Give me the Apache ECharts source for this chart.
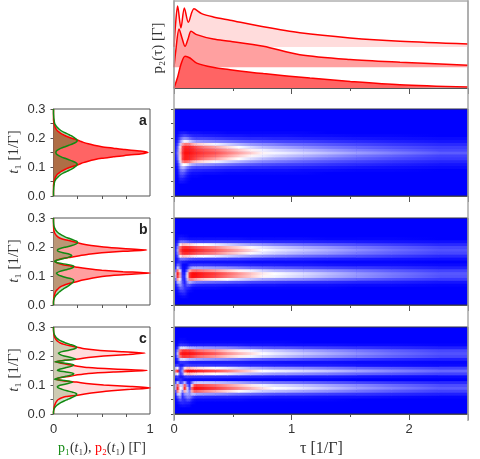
<!DOCTYPE html>
<html>
<head>
<meta charset="utf-8">
<style>
html,body{margin:0;background:#fff}
#heatClip,#chart{position:absolute;left:0;top:0;width:480px;height:459px}
#heatClip{clip-path:path('M174 109H468V196H174Z M174 218H468V305H174Z M174 327H468V414H174Z')}
#heat{width:480px;height:459px;filter:blur(0.7px)}
</style>
<script src="https://cdn.jsdelivr.net/npm/echarts@6/dist/echarts.min.js"></script>
</head>
<body>
<div id="heatClip"><div id="heat"></div></div>
<div id="chart"></div>
<script>
// top panel: [tau, p2] for each pulse train, each one sits on its own baseline
const curveA = [[0,0],[0.03,0.35],[0.06,0.8],[0.094,1.06],[0.136,1],[0.193,0.83],[0.33,0.69],[0.476,0.61],[0.76,0.48],[1.156,0.33],[1.5,0.22],[1.92,0.11],[2.5,0.03]];
const curveB = [[0,0],[0.015,0.55],[0.043,1.28],[0.07,0.95],[0.094,0.7],[0.12,0.95],[0.145,1.2],[0.193,1.09],[0.334,0.94],[0.476,0.87],[0.76,0.7],[1.07,0.42],[1.497,0.26],[1.922,0.17],[2.5,0.07]];
const curveC = [[0,0],[0.012,0.7],[0.031,1.36],[0.059,0.63],[0.088,1.3],[0.122,0.82],[0.17,1.27],[0.235,1.11],[0.334,1],[0.476,0.89],[0.76,0.67],[1.07,0.47],[1.497,0.3],[1.922,0.19],[2.5,0.1]];
const baseB = 0.69;
const baseC = 1.37;

// left panels, t1 from 0 to 0.3 in steps of 0.005
const t1Axis = Array.from({length: 61}, (_, i) => (i * 0.005).toFixed(3));
const redA = [0,0,0,0,0,0,0,0,0.001,0.003,
  0.005,0.01,0.015,0.02,0.03,0.04,0.06,0.08,0.11,0.14,
  0.18,0.23,0.27,0.31,0.36,0.42,0.5,0.62,0.74,0.9,
  0.98,0.9,0.74,0.62,0.5,0.42,0.36,0.31,0.27,0.23,
  0.18,0.14,0.11,0.08,0.06,0.04,0.03,0.02,0.015,0.01,
  0.005,0.003,0.001,0,0,0,0,0,0,0,0];
const greenA = [0,0,0,0,0.001,0.002,0.003,0.005,0.007,0.009,
  0.012,0.02,0.03,0.045,0.06,0.08,0.105,0.14,0.17,0.2,
  0.22,0.24,0.245,0.23,0.2,0.16,0.12,0.08,0.05,0.03,
  0.025,0.03,0.05,0.08,0.12,0.16,0.2,0.23,0.245,0.24,
  0.22,0.2,0.17,0.14,0.105,0.08,0.06,0.045,0.03,0.02,
  0.012,0.009,0.007,0.005,0.003,0.002,0.001,0,0,0,0];
const redB = [0,0,0,0,0.002,0.004,0.006,0.01,0.015,0.02,
  0.03,0.045,0.06,0.085,0.12,0.17,0.24,0.29,0.36,0.44,
  0.55,0.75,1,0.72,0.5,0.36,0.25,0.17,0.09,0.04,
  0.015,0.04,0.09,0.18,0.27,0.36,0.5,0.72,0.965,0.72,
  0.52,0.39,0.3,0.25,0.19,0.12,0.07,0.045,0.03,0.018,
  0.01,0.006,0.003,0.002,0.001,0,0,0,0,0,0];
const greenB = [0,0,0,0.002,0.005,0.01,0.018,0.03,0.045,0.06,
  0.08,0.1,0.125,0.15,0.17,0.19,0.205,0.21,0.19,0.13,
  0.08,0.045,0.03,0.06,0.11,0.17,0.205,0.21,0.14,0.05,
  0.01,0.04,0.1,0.16,0.19,0.165,0.1,0.05,0.04,0.07,
  0.13,0.19,0.23,0.25,0.24,0.2,0.16,0.12,0.09,0.065,
  0.045,0.03,0.02,0.012,0.007,0.004,0.002,0.001,0,0,0];
const redC = [0,0,0.001,0.003,0.005,0.008,0.012,0.018,0.025,0.035,
  0.05,0.08,0.13,0.25,0.34,0.46,0.6,0.8,1,0.8,
  0.52,0.34,0.24,0.1,0.02,0.07,0.17,0.25,0.36,0.62,
  0.97,0.62,0.36,0.25,0.16,0.08,0.02,0.12,0.26,0.36,
  0.52,0.78,0.95,0.72,0.46,0.32,0.25,0.17,0.11,0.07,
  0.045,0.03,0.02,0.012,0.007,0.004,0.002,0.001,0,0,0];
const greenC = [0,0,0.001,0.004,0.01,0.02,0.035,0.055,0.08,0.11,
  0.145,0.18,0.21,0.235,0.24,0.2,0.14,0.09,0.05,0.04,
  0.08,0.15,0.2,0.13,0.01,0.06,0.13,0.19,0.21,0.13,
  0.04,0.07,0.13,0.19,0.21,0.12,0.01,0.12,0.23,0.18,
  0.11,0.07,0.05,0.09,0.16,0.22,0.24,0.22,0.17,0.125,
  0.09,0.06,0.04,0.025,0.015,0.008,0.004,0.002,0.001,0,0];

// heat maps: column edges in tau, rows at t1 = 0, 0.01 ... 0.30
// values: 0 blue, 50 white, 100 red
const tauEdges = [0,0.02,0.04,0.06,0.08,0.1,0.12,0.14,0.16,0.18,0.2,0.3,0.4,0.5,0.6,0.7,0.8,0.9,1,1.2,1.4,1.7,2,2.5];
const blank = [0,0,0,0,0,0,0,0,0,0,0,0,0,0,0,0,0,0,0,0,0,0,0];
const heatA = [blank,blank,blank,blank,blank,
  [0,0,3,3,2,1,0,0,0,0,0,0,0,0,0,0,0,0,0,0,0,0,0],
  [0,0,6,6,4,2,1,0,0,0,0,0,0,0,0,0,0,0,0,0,0,0,0],
  [0,1,10,12,8,4,2,1,1,1,0,0,0,0,0,0,0,0,0,0,0,0,0],
  [0,2,15,18,14,8,5,3,3,3,2,2,1,1,1,1,1,1,1,0,0,0,0],
  [0,3,20,26,22,14,10,8,7,7,6,5,4,4,3,3,3,3,2,2,1,1,0],
  [0,5,27,36,32,24,20,16,15,14,14,12,10,9,8,8,7,7,6,5,4,3,2],
  [1,8,34,50,50,46,40,34,32,30,28,25,22,19,17,15,14,13,12,10,8,6,4],
  [2,13,44,72,80,78,74,68,64,61,56,48,41,35,30,26,24,22,19,16,13,10,7],
  [3,20,54,86,95,94,92,90,87,84,76,68,58,50,43,37,33,31,27,23,19,15,11],
  [4,22,56,85,95,95,93,92,90,88,84,78,69,60,52,46,42,39,35,30,24,19,13],
  [5,25,60,88,97,97,96,95,93,92,88,84,76,68,60,52,48,46,42,37,31,25,18],
  [4,22,56,85,95,95,94,93,91,88,84,78,70,61,53,47,43,40,36,31,25,20,14],
  [3,20,52,84,93,93,92,90,87,84,76,68,58,50,43,37,34,32,28,24,20,16,12],
  [2,14,40,66,76,76,74,68,64,61,56,48,41,35,30,27,25,22,20,17,14,11,8],
  [1,8,26,42,48,46,42,36,33,30,28,25,22,19,17,15,14,13,12,10,8,6,4],
  [0,5,16,26,28,26,22,17,15,14,14,12,10,9,8,8,7,7,6,5,4,3,2],
  [0,3,8,12,14,12,10,8,7,7,6,5,4,4,3,3,3,3,2,2,1,1,0],
  [0,1,4,5,5,4,3,3,3,3,2,2,1,1,1,1,1,1,1,0,0,0,0],
  blank,blank,blank,blank,blank,blank,blank,blank];
const heatB = [blank,blank,blank,
  [0,0,1,2,2,1,0,0,0,0,0,0,0,0,0,0,0,0,0,0,0,0,0],
  [0,1,4,6,6,2,0,0,0,0,0,0,0,0,0,0,0,0,0,0,0,0,0],
  [0,3,10,12,9,4,2,1,0,0,0,0,0,0,0,0,0,0,0,0,0,0,0],
  [1,7,18,18,10,8,6,3,2,2,2,2,1,1,1,1,1,1,1,1,0,0,0],
  [2,16,30,20,8,16,16,10,8,7,6,6,5,5,4,4,4,3,3,3,2,2,1],
  [5,35,38,16,5,24,36,30,26,24,22,20,18,16,14,13,12,11,10,9,7,6,4],
  [20,68,50,12,6,36,72,74,70,66,60,55,49,43,38,33,31,29,27,23,19,15,11],
  [36,92,62,10,8,46,90,97,97,96,92,86,77,68,60,52,48,45,41,35,29,23,16],
  [40,97,64,8,5,44,90,97,98,97,93,88,80,71,62,54,50,47,43,37,30,24,17],
  [22,78,52,5,2,22,64,76,78,78,74,68,60,53,47,41,37,35,32,28,23,18,13],
  [4,40,20,3,1,6,24,32,34,34,32,30,28,25,22,20,18,17,15,13,11,9,6],
  [2,20,14,2,1,2,8,10,10,10,10,9,8,8,7,6,6,5,5,4,3,3,2],
  [1,8,10,6,5,4,3,3,3,3,3,3,3,3,2,2,2,2,2,1,1,1,0],
  [1,7,20,22,20,18,16,15,14,14,13,13,12,11,10,9,8,8,7,6,5,4,3],
  [2,16,52,62,62,60,58,56,54,52,50,46,41,36,32,29,26,24,21,18,15,12,8],
  [3,26,78,90,92,92,90,88,86,84,80,74,65,58,51,45,41,38,34,30,24,19,14],
  [4,32,84,95,97,97,96,95,94,92,88,82,74,66,58,50,46,43,39,34,28,22,16],
  [3,26,78,90,92,92,90,88,86,84,80,74,65,58,51,45,41,38,34,30,24,19,14],
  [2,16,52,62,62,60,58,56,54,52,50,46,41,36,32,29,26,24,21,18,15,12,8],
  [1,7,20,22,20,18,16,15,14,14,13,13,12,11,10,9,8,8,7,6,5,4,3],
  [0,2,6,6,5,4,3,3,3,3,3,3,3,3,2,2,2,2,2,1,1,1,0],
  [0,1,2,2,1,1,0,0,0,0,0,0,0,0,0,0,0,0,0,0,0,0,0],
  blank,blank,blank,blank,blank,blank];
const heatC = [blank,blank,blank,
  [0,0,2,3,3,2,2,0,0,0,0,0,0,0,0,0,0,0,0,0,0,0,0],
  [0,2,6,8,6,6,5,2,1,0,0,0,0,0,0,0,0,0,0,0,0,0,0],
  [0,6,16,10,8,14,14,6,3,2,2,2,2,2,1,1,1,1,1,1,0,0,0],
  [1,16,30,8,16,24,24,16,10,8,8,7,7,6,5,5,4,4,4,3,3,2,1],
  [3,38,42,12,28,32,28,36,36,32,30,28,25,22,20,18,16,15,14,12,10,8,6],
  [14,74,52,28,66,40,25,66,80,80,74,66,58,51,45,40,37,35,32,28,23,18,13],
  [35,96,50,45,96,45,15,78,96,97,94,88,80,72,64,56,50,48,44,38,31,25,18],
  [34,84,42,40,84,30,8,56,84,88,84,78,70,62,55,48,44,42,38,33,27,21,15],
  [12,42,12,18,38,10,4,22,38,40,40,38,35,32,28,25,23,22,20,17,14,11,8],
  [1,6,10,6,3,3,2,2,2,2,2,2,1,1,1,1,1,1,1,1,0,0,0],
  [8,12,5,5,10,12,11,10,10,10,10,9,9,8,7,7,6,6,5,5,4,3,2],
  [38,52,10,20,54,62,62,60,58,56,54,50,46,41,36,33,30,29,27,24,20,17,13],
  [76,92,10,30,84,96,98,98,96,94,90,84,76,66,58,50,47,45,42,38,32,26,20],
  [38,52,10,20,54,62,62,60,58,56,54,50,46,41,36,33,30,29,27,24,20,17,13],
  [8,12,5,5,10,12,11,10,10,10,10,9,9,8,7,7,6,6,5,5,4,3,2],
  [0,3,10,10,9,8,6,5,5,5,5,5,5,5,4,4,4,3,3,3,2,2,1],
  [1,12,40,44,42,38,36,34,34,32,30,28,26,23,20,18,16,16,14,12,10,8,6],
  [3,28,78,88,90,88,88,86,84,80,76,70,61,54,48,43,40,37,33,29,24,19,14],
  [4,38,90,96,97,96,96,95,94,92,88,82,72,64,57,50,46,43,39,34,28,22,16],
  [3,28,78,88,90,88,88,86,84,80,76,70,61,54,48,43,40,37,33,29,24,19,14],
  [1,12,40,44,42,38,36,34,34,32,30,28,26,23,20,18,16,16,14,12,10,8,6],
  [0,3,10,10,9,8,6,5,5,5,5,5,5,5,4,4,4,3,3,3,2,2,1],
  [0,1,3,3,2,2,1,1,1,1,1,1,1,1,1,1,1,1,0,0,0,0,0],
  [0,0,1,1,1,0,0,0,0,0,0,0,0,0,0,0,0,0,0,0,0,0,0],
  blank,blank,blank,blank];

const RED = '#ff0000';
const GREEN = '#128a12';
const AXIS = '#555';
const LABEL = '#333';
const SANS = '"Liberation Sans", Arial, sans-serif';
const SERIF = '"Liberation Serif", "DejaVu Serif", serif';
const panelTops = [109, 218, 327];

function heatColor(v) {
  // blue -> white -> red
  const k = v <= 50 ? Math.round(v / 50 * 255) : Math.round((100 - v) / 50 * 255);
  return v <= 50 ? 'rgb(' + k + ',' + k + ',255)' : 'rgb(255,' + k + ',' + k + ')';
}

// one piece between two column centres, shaded from one value to the next
function cells(rows) {
  const mids = tauEdges.slice(1).map((e, i) => (e + tauEdges[i]) / 2);
  const out = [];
  rows.forEach((row, r) => {
    out.push([tauEdges[0], mids[0], r * 0.01, row[0], row[0]]);
    for (let c = 0; c < row.length - 1; c++) {
      out.push([mids[c], mids[c + 1], r * 0.01, row[c], row[c + 1]]);
    }
    out.push([mids[row.length - 1], tauEdges[tauEdges.length - 1], r * 0.01, row[row.length - 1], row[row.length - 1]]);
  });
  return out;
}

function renderCell(params, api) {
  const a = api.coord([api.value(0), api.value(2) + 0.005]);
  const b = api.coord([api.value(1), api.value(2) - 0.005]);
  return {
    type: 'rect',
    shape: {x: a[0], y: a[1], width: b[0] - a[0] + 0.5, height: b[1] - a[1] + 0.5},
    style: {fill: new echarts.graphic.LinearGradient(0, 0, 1, 0, [
      {offset: 0, color: heatColor(api.value(3))},
      {offset: 1, color: heatColor(api.value(4))}
    ])}
  };
}

const tauAxis = (grid, labels) => ({
  type: 'value', gridIndex: grid, min: 0, max: 2.5, interval: 1,
  splitLine: {show: false},
  axisLine: {lineStyle: {color: AXIS}},
  axisTick: {length: 6, lineStyle: {color: AXIS}},
  minorTick: {show: true, splitNumber: 2, length: 3, lineStyle: {color: AXIS}},
  axisLabel: {show: labels, color: LABEL, fontFamily: SANS, fontSize: 13, margin: 9, showMaxLabel: false}
});
const probAxis = (grid, labels) => ({
  type: 'value', gridIndex: grid, min: 0, max: 1, interval: 1,
  splitLine: {show: false},
  axisLine: {lineStyle: {color: AXIS}},
  axisTick: {length: 6, lineStyle: {color: AXIS}},
  minorTick: {show: true, splitNumber: 4, length: 3, lineStyle: {color: AXIS}},
  axisLabel: {show: labels, color: LABEL, fontFamily: SANS, fontSize: 13, margin: 9}
});
const t1CatAxis = grid => ({
  type: 'category', gridIndex: grid, data: t1Axis, boundaryGap: false,
  axisLine: {lineStyle: {color: AXIS}},
  axisTick: {interval: 9, length: 3, alignWithLabel: true, lineStyle: {color: AXIS}},
  axisLabel: {interval: 19, color: LABEL, fontFamily: SANS, fontSize: 13, margin: 8,
    formatter: v => parseFloat(v).toFixed(1)}
});
const t1ValAxis = grid => ({
  type: 'value', gridIndex: grid, min: 0, max: 0.3, interval: 0.05,
  splitLine: {show: false},
  axisLine: {lineStyle: {color: AXIS}},
  axisTick: {length: 3, lineStyle: {color: AXIS}},
  axisLabel: {show: false}
});

function topSeries(curve, base, fill) {
  return {
    type: 'line', xAxisIndex: 0, yAxisIndex: 0, smooth: 0.3, showSymbol: false,
    data: curve.map(p => [p[0], p[1] + base]),
    lineStyle: {color: RED, width: 1.5},
    areaStyle: {color: fill, opacity: 1, origin: base}
  };
}
function sideSeries(i, values, color, fill, op) {
  return {
    type: 'line', xAxisIndex: i + 1, yAxisIndex: i + 1, smooth: 0.2, showSymbol: false,
    data: values, lineStyle: {color: color, width: 1.5},
    areaStyle: {color: fill, opacity: op}
  };
}
function heatSeries(i, rows) {
  return {
    type: 'custom', xAxisIndex: i, yAxisIndex: i, coordinateSystem: 'cartesian2d',
    renderItem: renderCell, data: cells(rows), progressive: 0, silent: true,
    encode: {x: [0, 1], y: 2}
  };
}
const sideText = (y, s) => ({type: 'text', left: 139, top: y, style: {
  text: s, fontFamily: SANS, fontWeight: 'bold', fontSize: 14, fill: '#222'}});
const frameLine = (x, y1, y2) => ({type: 'line', z: 20, shape: {x1: x, y1: y1, x2: x, y2: y2},
  style: {stroke: '#a8a8a8', lineWidth: 1.5}});

// heat maps sit on their own layer, a few pixels wider than the panels so
// that the slight blur keeps the blue right up to the clipped edge
const heat = echarts.init(document.getElementById('heat'));
heat.setOption({
  animation: false,
  grid: panelTops.map(t => ({left: 168, top: t - 6, width: 306, height: 99, show: true, backgroundColor: '#0000ff', borderWidth: 0})),
  xAxis: panelTops.map((t, i) => ({type: 'value', gridIndex: i, min: -6 / 117.6, max: 2.5 + 6 / 117.6, show: false})),
  yAxis: panelTops.map((t, i) => ({type: 'value', gridIndex: i, min: -6 / 290, max: 0.3 + 6 / 290, show: false})),
  series: [heatSeries(0, heatA), heatSeries(1, heatB), heatSeries(2, heatC)]
});

const chart = echarts.init(document.getElementById('chart'));
chart.setOption({
  animation: false,
  grid: [
    {left: 174, top: 1, width: 294, height: 87, show: true, borderColor: '#888'},
    ...panelTops.map(t => ({left: 53.5, top: t, width: 96.5, height: 87, show: true, borderColor: AXIS})),
    ...panelTops.map(t => ({left: 174, top: t, width: 294, height: 87, show: true, borderColor: '#334'}))
  ],
  xAxis: [tauAxis(0, false), probAxis(1, false), probAxis(2, false), probAxis(3, true),
    tauAxis(4, false), tauAxis(5, false), tauAxis(6, true)],
  yAxis: [
    {type: 'value', gridIndex: 0, min: 0, max: 2.9, show: false},
    t1CatAxis(1), t1CatAxis(2), t1CatAxis(3),
    t1ValAxis(4), t1ValAxis(5), t1ValAxis(6)
  ],
  series: [
    topSeries(curveC, baseC, '#ffdcdc'),
    topSeries(curveB, baseB, '#ffa0a0'),
    topSeries(curveA, 0, '#ff6464'),
    sideSeries(0, redA, RED, '#ff6464', 1),
    sideSeries(0, greenA, GREEN, '#0a820a', 0.33),
    sideSeries(1, redB, RED, '#ffa0a0', 1),
    sideSeries(1, greenB, GREEN, '#0a820a', 0.28),
    sideSeries(2, redC, RED, '#ffdcdc', 1),
    sideSeries(2, greenC, GREEN, '#0a820a', 0.2)
  ],
  graphic: [
    sideText(114, 'a'), sideText(223, 'b'), sideText(332, 'c'),
    frameLine(174, 0, 421), frameLine(468, 0, 421),
    {type: 'text', left: 300, top: 441, style: {
      text: 'τ [1/Γ]', fontFamily: SERIF, fontSize: 16, fill: LABEL}},
    {type: 'text', left: 58, top: 441, style: {
      text: '{g|p₁}{k|(}{i|t}{k|₁), }{r|p₂}{k|(}{i|t}{k|₁) [Γ]}',
      rich: {
        g: {fill: GREEN, fontFamily: SERIF, fontSize: 14},
        r: {fill: RED, fontFamily: SERIF, fontSize: 14},
        k: {fill: LABEL, fontFamily: SERIF, fontSize: 14},
        i: {fill: LABEL, fontFamily: SERIF, fontSize: 14, fontStyle: 'italic'}
      }}},
    {type: 'text', x: 158, y: 48, rotation: Math.PI / 2, style: {
      text: 'p₂(τ) [Γ]', fontFamily: SERIF, fontSize: 15, fill: LABEL,
      align: 'center', verticalAlign: 'middle'}},
    ...panelTops.map(t => ({type: 'text', x: 14, y: t + 43, rotation: Math.PI / 2, style: {
      text: '{i|t}{k|₁ [1/Γ]}',
      rich: {
        i: {fill: LABEL, fontFamily: SERIF, fontSize: 15, fontStyle: 'italic'},
        k: {fill: LABEL, fontFamily: SERIF, fontSize: 15}
      },
      align: 'center', verticalAlign: 'middle'}}))
  ]
});
</script>
</body>
</html>
